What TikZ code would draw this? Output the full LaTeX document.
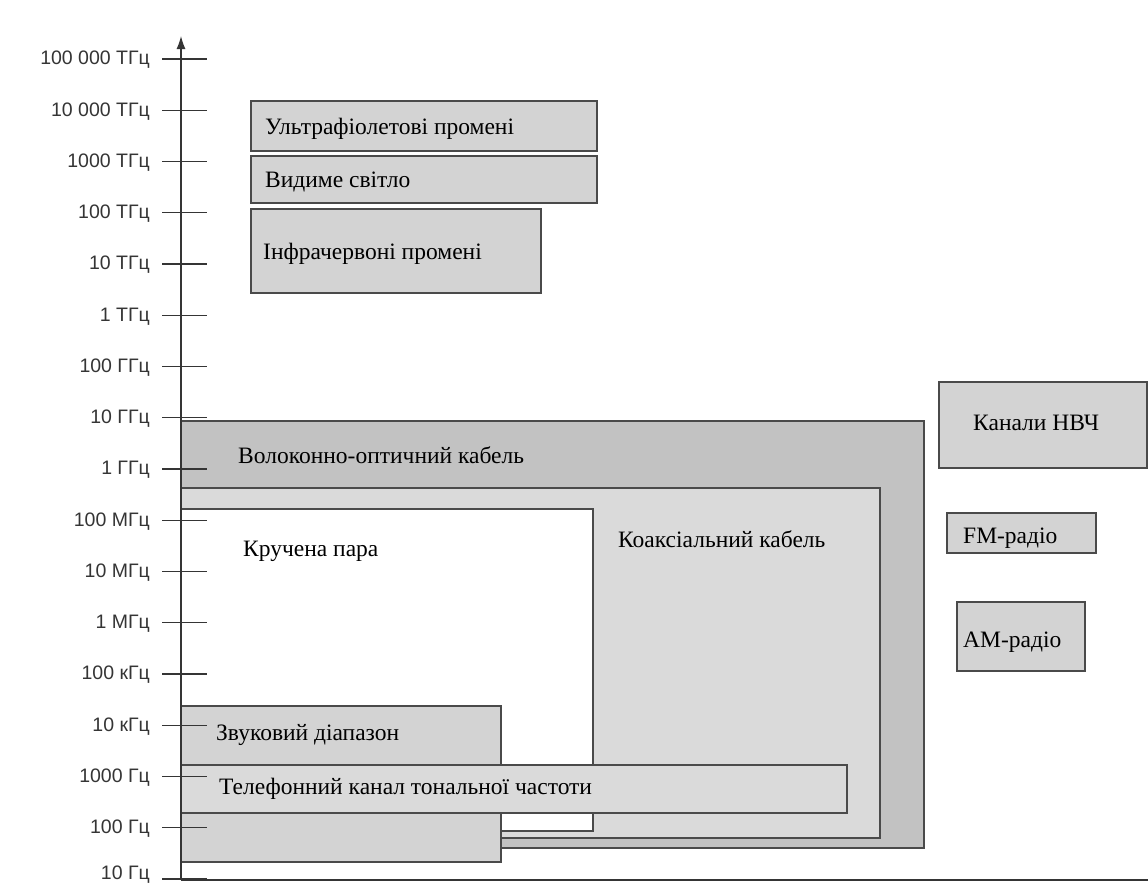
\documentclass[tikz,border=0pt]{standalone}
\usepackage{fontspec}
\setmainfont{Liberation Serif}
\newfontfamily\axisfont{Liberation Sans}
\usetikzlibrary{arrows.meta}
\definecolor{edge}{HTML}{4A4A4A}
\definecolor{fibre}{HTML}{C2C2C2}
\definecolor{coax}{HTML}{DADADA}
\definecolor{band}{HTML}{D3D3D3}
\definecolor{axisgray}{HTML}{353535}
\begin{document}
\begin{tikzpicture}[x=1pt,y=-1pt,
  bandbox/.style={draw=edge,line width=1.3pt,fill=band},
  bandlabel/.style={anchor=base west,inner sep=0pt,font=\fontsize{23.5}{28}\selectfont,text=black},
  ticklabel/.style={anchor=east,inner sep=0pt,font=\axisfont\fontsize{19.5}{23}\selectfont,text=axisgray},
  tickline/.style={draw=axisgray,line width=1.1pt}]
\useasboundingbox[fill=white] (0,0) rectangle (1148,886);

% guided media, drawn from the widest band inwards
\draw[bandbox,fill=fibre] (181,421) rectangle (924,848);
\draw[bandbox,fill=coax] (181,488) rectangle (880,838);
\draw[bandbox,fill=white] (181,509) rectangle (593,831);
\draw[bandbox] (181,706) rectangle (501,862);
\draw[bandbox,fill=coax] (181,765) rectangle (847,813);

% optical bands
\draw[bandbox] (251,101) rectangle (597,151);
\draw[bandbox] (251,156) rectangle (597,203);
\draw[bandbox] (251,209) rectangle (541,293);

% radio bands
\draw[bandbox] (939,382) rectangle (1147,468);
\draw[bandbox] (947,513) rectangle (1096,553);
\draw[bandbox] (957,602) rectangle (1085,671);

% band names
\node[bandlabel] (uv)    at (265,134) {Ультрафіолетові промені};
\node[bandlabel] (vis)   at (265,187) {Видиме світло};
\node[bandlabel] (ir)    at (263,259) {Інфрачервоні промені};
\node[bandlabel] (fibreL) at (238,463) {Волоконно-оптичний кабель};
\node[bandlabel] (coaxL) at (618,547) {Коаксіальний кабель};
\node[bandlabel] (tp)    at (243,556) {Кручена пара};
\node[bandlabel] (audio) at (216,740) {Звуковий діапазон};
\node[bandlabel] (voice) at (219,794) {Телефонний канал тональної частоти};
\node[bandlabel] (mw)    at (973,430) {Канали НВЧ};
\node[bandlabel] (fm)    at (963,543) {FM-радіо};
\node[bandlabel] (am)    at (963,647) {AM-радіо};

% frequency axis
\coordinate (origin) at (181,880);
\coordinate (axtop) at (181,36);
\coordinate (axright) at (1148,880);
\draw[draw=axisgray,line width=1.3pt] (origin) -- (axright);
\draw[draw=axisgray,line width=1.3pt,-{Latex[length=13pt,width=9pt]}] (origin) -- (axtop);

\foreach \lab [count=\i from 0] in {100 000 ТГц,10 000 ТГц,1000 ТГц,100 ТГц,10 ТГц,1 ТГц,100 ГГц,10 ГГц,1 ГГц,100 МГц,10 МГц,1 МГц,100 кГц,10 кГц,1000 Гц,100 Гц,10 Гц}{
  \pgfmathsetmacro{\ty}{59+51.25*\i}
  \pgfmathsetmacro{\ly}{min(\ty+1,875)}
  \coordinate (ta\i) at (162,\ty);
  \coordinate (tb\i) at (207,\ty);
  \draw[tickline] (ta\i) -- (tb\i);
  \node[ticklabel] (tl\i) at (150,\ly) {\lab};
}
\end{tikzpicture}
\end{document}
